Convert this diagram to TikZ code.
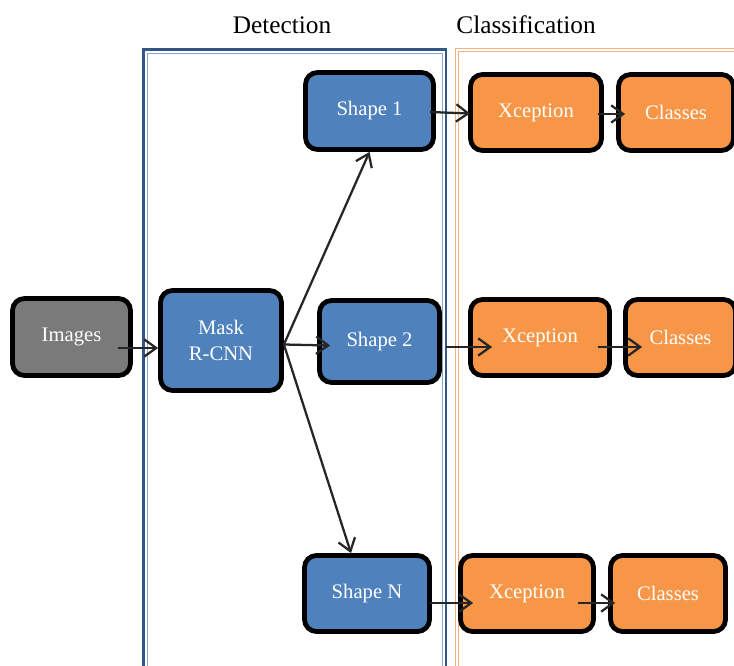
\documentclass[tikz,border=0pt]{standalone}
\usepackage{fontspec}
\setmainfont{Liberation Serif}
\usepackage{tikz}
\usetikzlibrary{arrows.meta}
\definecolor{bleu}{RGB}{79,129,189}
\definecolor{orange}{RGB}{247,150,70}
\definecolor{gris}{RGB}{122,122,122}
\definecolor{cadrebleu}{RGB}{52,86,134}
\definecolor{cadreclair}{RGB}{140,165,205}
\definecolor{cadreorange}{RGB}{244,177,131}
\tikzset{etape/.style={draw=black,line width=3.6pt,rounded corners=9pt,align=center,text=white,inner sep=2pt,font=\fontsize{15.5}{19.5}\selectfont},fleche/.style={-{Straight Barb[length=9pt,width=13pt]},line width=1.7pt,draw=black!85},cadre/.style={line width=0.9pt,double distance=1.3pt},titre/.style={font=\fontsize{19}{22}\selectfont}}

\begin{document}
\begin{tikzpicture}[x=0.75pt,y=-0.75pt]
\useasboundingbox (0,0) rectangle (734,666);
% cadres
\draw[line width=1.6pt,draw=cadrebleu] (143.5,49.5) rectangle (446,690);
\draw[line width=0.8pt,draw=cadreclair] (147.5,53.5) rectangle (442.5,690);
\draw[cadre,draw=cadreorange,double=white] (457,50) rectangle (760,690);
\node[titre] (det) at (282,25) {Detection};
\node[titre] (cla) at (526,25) {Classification};
% blocs
\node[etape,fill=gris,minimum width=88.5pt,minimum height=57.75pt] (img) at (71.5,337) {Images};
\node[etape,fill=bleu,minimum width=90.75pt,minimum height=75pt] (mask) at (221,340.5) {Mask\\R-CNN};
\node[etape,fill=bleu,minimum width=96pt,minimum height=57.75pt] (s1) at (369.5,111) {Shape 1};
\node[etape,fill=bleu,minimum width=90pt,minimum height=61.5pt] (s2) at (379.5,341.5) {Shape 2};
\node[etape,fill=bleu,minimum width=93.75pt,minimum height=57pt] (sn) at (367,593.5) {Shape N};
\node[etape,fill=orange,minimum width=98.25pt,minimum height=57pt] (x1) at (536,112.5) {Xception};
\node[etape,fill=orange,minimum width=104.25pt,minimum height=57pt] (x2) at (540,337.5) {Xception};
\node[etape,fill=orange,minimum width=99.75pt,minimum height=57pt] (xn) at (527,593.5) {Xception};
\node[etape,fill=orange,minimum width=86.25pt,minimum height=57pt] (c1) at (676,112.5) {Classes};
\node[etape,fill=orange,minimum width=82.5pt,minimum height=57pt] (c2) at (680.5,337.5) {Classes};
\node[etape,fill=orange,minimum width=86.25pt,minimum height=57pt] (cn) at (668,593.5) {Classes};
% fleches
\coordinate (fan) at ([shift={(0,4)}]mask.east);
\draw[fleche] ([shift={(-15,11)}]img.east)--([shift={(0,7.5)}]mask.west);
\draw[fleche] (fan)--(s1.south);
\draw[fleche] (fan)--([shift={(13,4)}]s2.west);
\draw[fleche] (fan)--([xshift=-12]sn.north);
\draw[fleche] ([shift={(-6,1)}]s1.east)--([shift={(2,1)}]x1.west);
\draw[fleche] ([shift={(4,5.5)}]s2.east)--([shift={(24,9.5)}]x2.west);
\draw[fleche] ([shift={(-2,9.5)}]sn.east)--([shift={(15,9.5)}]xn.west);
\draw[fleche] ([shift={(-6,1.5)}]x1.east)--([shift={(9,1.5)}]c1.west);
\draw[fleche] ([shift={(-14,9.5)}]x2.east)--([shift={(19,9.5)}]c2.west);
\draw[fleche] ([shift={(-18,9.5)}]xn.east)--([shift={(7,9.5)}]cn.west);
\end{tikzpicture}
\end{document}
